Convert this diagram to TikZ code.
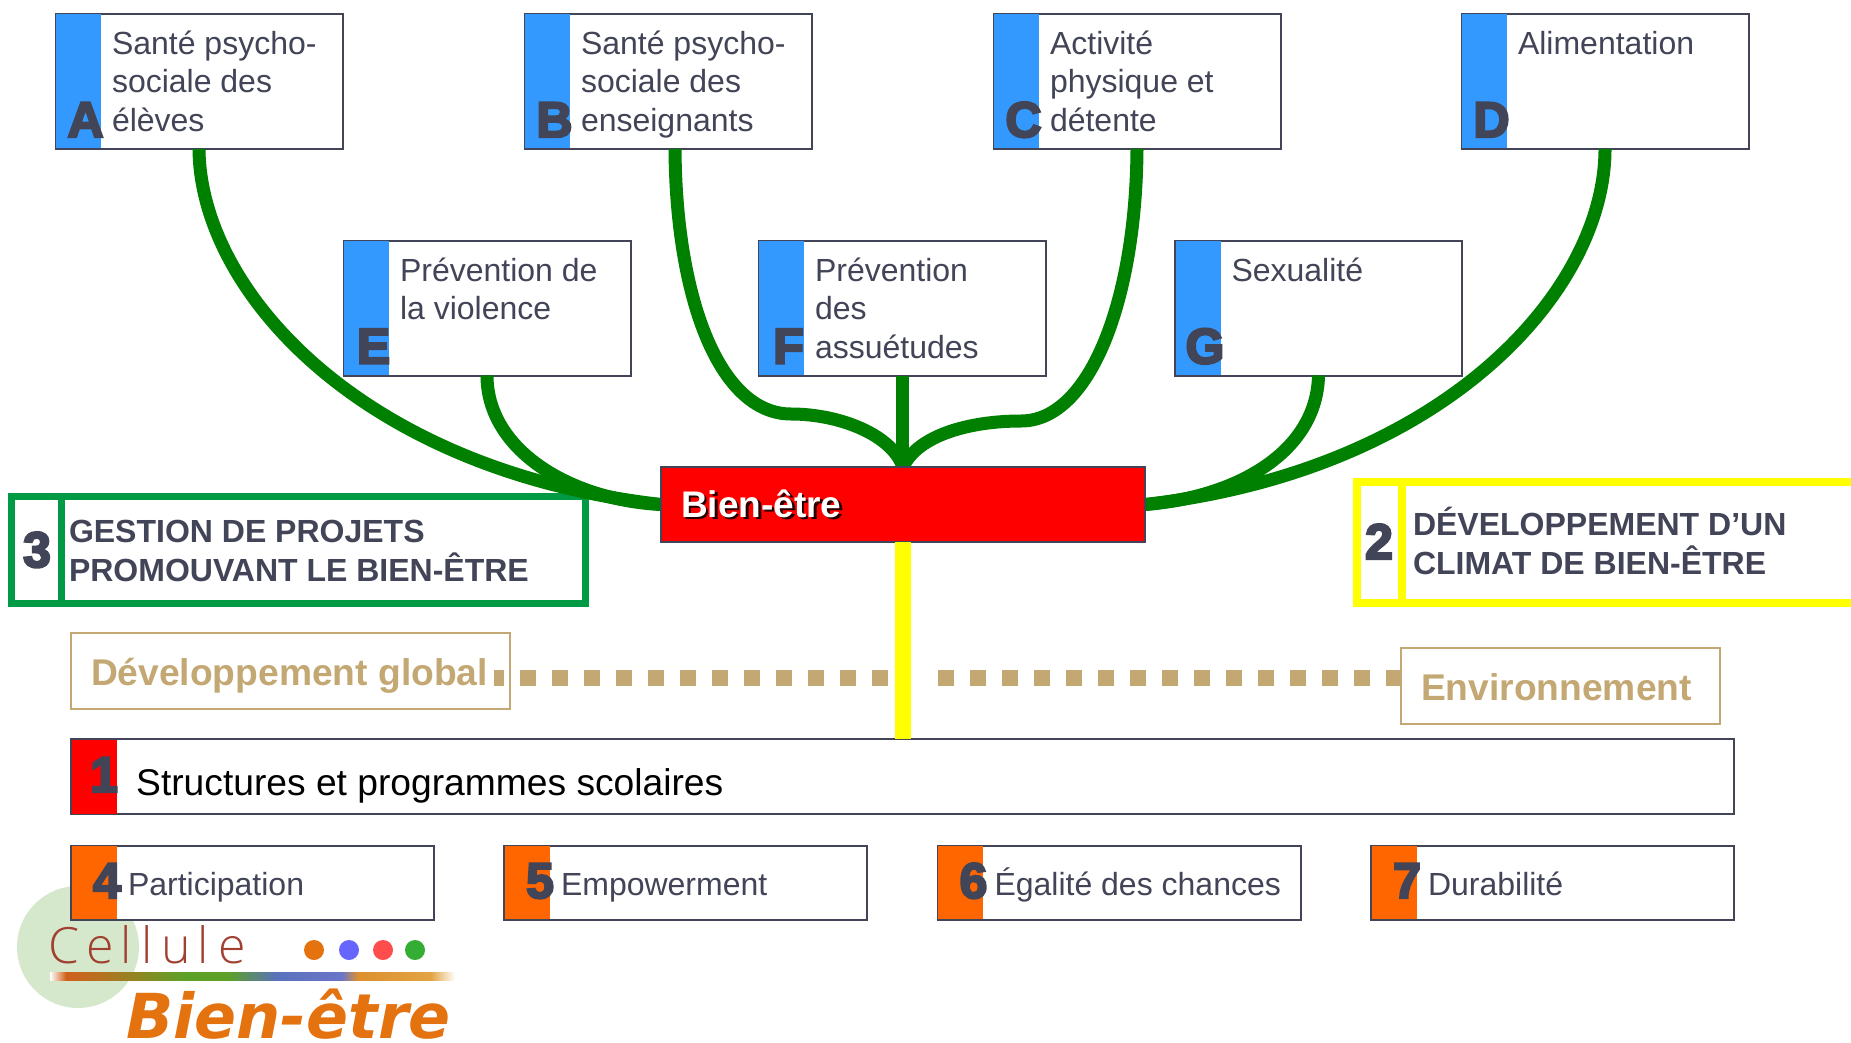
\documentclass[tikz,border=0pt]{standalone}
\usepackage{fontspec}
\usetikzlibrary{calc}
\setmainfont{Liberation Sans}
\newfontfamily\heavyfont[FakeBold=4.5]{Liberation Sans Bold}
\newfontfamily\logoserif{DejaVu Sans}
\newfontfamily\logothin{Open Sans Light}
\definecolor{ink}{HTML}{424457}
\definecolor{leaf}{HTML}{008000}
\definecolor{bluestrip}{HTML}{3399FF}
\definecolor{orangestrip}{HTML}{FF6600}
\definecolor{sand}{HTML}{C4A874}
\definecolor{projgreen}{HTML}{009A44}
\definecolor{pureyellow}{HTML}{FFFF00}
\definecolor{purered}{HTML}{FF0000}
\definecolor{logogreen}{HTML}{D6E8CC}
\definecolor{logoorange}{HTML}{E3720F}
\definecolor{logobrown}{HTML}{A04030}
\definecolor{lbA}{HTML}{D0601A}
\definecolor{lbB}{HTML}{B87020}
\definecolor{lbC}{HTML}{5DA028}
\definecolor{lbD}{HTML}{5A72BC}
\definecolor{lbE}{HTML}{6A75C8}
\definecolor{lbF}{HTML}{DD9030}
\definecolor{lbG}{HTML}{E2A340}
% a TikZ shade shows the middle 50bp of the 100bp axis
\pgfdeclarehorizontalshading{logobar}{100bp}{
  color(0bp)=(white);
  color(25bp)=(white);
  color(27bp)=(lbA);
  color(31bp)=(lbB);
  color(41.5bp)=(lbC);
  color(47bp)=(lbC);
  color(53bp)=(lbD);
  color(61bp)=(lbE);
  color(63bp)=(lbF);
  color(72bp)=(lbG);
  color(75bp)=(white);
  color(100bp)=(white)}
\tikzset{
  framebox/.style={draw=ink,line width=2pt,fill=white,rectangle,inner sep=0pt,anchor=north west,outer sep=0pt},
  stripbox/.style={rectangle,inner sep=0pt,outer sep=0pt,anchor=north west,minimum width=45pt},
  topic/.style={anchor=base west,inner sep=0pt,outer sep=0pt,text=ink,align=left,font=\fontsize{32}{38.5}\selectfont},
  keyletter/.style={anchor=base,inner sep=0pt,outer sep=0pt,text=ink,font=\heavyfont\fontsize{50}{50}\selectfont},
  branch/.style={draw=leaf,line width=13pt,line cap=butt},
  bigframe/.style={rectangle,fill=white,inner sep=0pt,outer sep=0pt,anchor=north west},
  headtxt/.style={anchor=base west,inner sep=0pt,outer sep=0pt,text=ink,align=left,font=\bfseries\fontsize{32}{38.5}\selectfont},
  sandbox/.style={rectangle,draw=sand,line width=2pt,inner sep=0pt,outer sep=0pt,anchor=north west},
  sandtxt/.style={anchor=base west,inner sep=0pt,outer sep=0pt,text=sand,font=\bfseries\fontsize{37.2}{40}\selectfont},
  sanddots/.style={draw=sand,line width=16pt},
  logodot/.style={circle,inner sep=0pt,outer sep=0pt,minimum size=20pt}
}
% name, x, y, letter, text, y of the last text line
\newcommand{\topicbox}[6]{%
  \node[framebox,minimum width=287pt,minimum height=135pt] (#1) at (#2,#3) {};
  \node[stripbox,fill=bluestrip,minimum height=134pt] (#1s) at (#2+.5,#3+.5) {};
  \node[keyletter] (#1l) at (#2+30,#3+123) {#4};
  \node[topic] (#1t) at (#2+56.5,#3+#6) {#5};
}
% name, x, number, text
\newcommand{\valuebox}[4]{%
  \node[framebox,minimum width=363pt,minimum height=74pt] (#1) at (#2,845.5) {};
  \node[stripbox,fill=orangestrip,minimum height=73pt] (#1s) at (#2+.5,846) {};
  \node[keyletter] (#1l) at (#2+36,898) {#3};
  \node[topic] (#1t) at (#2+57,895) {#4};
}
\begin{document}
\begin{tikzpicture}[x=1pt,y=-1pt]
\useasboundingbox (0,0) rectangle (1851,1043);
\fill[white] (0,0) rectangle (1851,1043);
% logo circle lies under the value boxes
\node[circle,fill=logogreen,minimum size=122pt,inner sep=0pt] (logocircle) at (78,947) {};
% boxes
\topicbox{A}{55.5}{14}{A}{Santé psycho-\\sociale des\\élèves}{117.5}
\topicbox{B}{524.5}{14}{B}{Santé psycho-\\sociale des\\enseignants}{117.5}
\topicbox{C}{993.5}{14}{C}{Activité\\physique et\\détente}{117.5}
\topicbox{D}{1461.5}{14}{D}{Alimentation}{40.5}
\topicbox{E}{343.5}{240.5}{E}{Prévention de\\la violence}{79}
\topicbox{F}{758.5}{240.5}{F}{Prévention\\des\\assuétudes}{117.5}
\topicbox{G}{1175}{240.5}{G}{Sexualité}{40.5}
% gestion frame
\node[bigframe,draw=projgreen,line width=7pt,minimum width=574pt,minimum height=107pt] (proj) at (11.5,496) {};
\coordinate (projd) at (61.5,496);
\draw[projgreen,line width=7pt] (projd) -- (projd |- proj.south);
\node[keyletter] (projn) at (37,567) {3};
\node[headtxt] (projt) at (69,581) {GESTION DE PROJETS\\PROMOUVANT LE BIEN-ÊTRE};
% climat frame
\node[bigframe,draw=pureyellow,line width=8pt,minimum width=520pt,minimum height=121pt] (clim) at (1356.5,482) {};
\coordinate (climd) at (1402,482);
\draw[pureyellow,line width=8pt] (climd) -- (climd |- clim.south);
\node[keyletter] (climn) at (1379,559) {2};
\node[headtxt] (climt) at (1413,574) {DÉVELOPPEMENT D’UN\\CLIMAT DE BIEN-ÊTRE};
% centre node, its anchors serve the branches
\coordinate (coretl) at (661,467);
\path (coretl) node[rectangle,inner sep=0pt,outer sep=0pt,anchor=north west,minimum width=484pt,minimum height=75pt] (core) {};
% branches
\draw[branch] (A.south) .. controls (200,290) and (360,470) .. (core.west);
\draw[branch] (E.south) .. controls (487,450) and (570,500) .. (core.west);
\draw[branch] ($(B.south)+(7,0)$) .. controls (676,300) and (720,414) .. (791,414) .. controls (840,414) and (892,435) .. (903,467);
\draw[branch] (C.south) .. controls (1136,300) and (1090,421) .. (1021,421) .. controls (970,421) and (918,435) .. (903,467);
\draw[branch] (F.south) -- (F.south |- core.north);
\draw[branch] (G.south) .. controls (1317,450) and (1240,497) .. (core.east);
\draw[branch] (D.south) .. controls (1605,290) and (1446,470) .. (core.east);
\draw[fill=purered,draw=ink,line width=2pt] (core.north west) rectangle (core.south east);
\node[anchor=base west,inner sep=0pt,text=black!85!red,font=\bfseries\fontsize{37}{40}\selectfont] (coreshadow) at (683.5,519.5) {Bien-être};
\node[anchor=base west,inner sep=0pt,text=white,font=\bfseries\fontsize{37}{40}\selectfont] (coretext) at (681,517) {Bien-être};
% sand boxes
\node[sandbox,minimum width=439pt,minimum height=76pt] (dev) at (71,633) {};
\node[sandtxt] (devt) at (91,685) {Développement global};
\node[sandbox,minimum width=319pt,minimum height=76pt] (env) at (1401,648) {};
\node[sandtxt] (envt) at (1421,700) {Environnement};
\coordinate (dotsA) at (494,678);
\coordinate (dotsB) at (888,678);
\coordinate (dotsC) at (937.5,678);
\draw[sanddots,dash pattern=on 16pt off 16pt,dash phase=6.4pt] (dotsA) -- (dotsB);
\draw[sanddots,dash pattern=on 16pt off 16pt] (dotsC) -- (env.west |- dotsC);
% structures
\node[framebox,minimum width=1663pt,minimum height=75pt] (struct) at (71,739) {};
\node[stripbox,fill=purered,minimum height=74pt] (structs) at (71.5,739.5) {};
\node[keyletter] (structn) at (104,792) {1};
\node[anchor=base west,inner sep=0pt,text=black,font=\fontsize{37.2}{40}\selectfont] (structt) at (136,795) {Structures et programmes scolaires};
% yellow trunk
\draw[pureyellow,line width=15.5pt] (core.south) -- (struct.north -| core.south);
% value boxes
\valuebox{P}{71}{4}{Participation}
\valuebox{Q}{504}{5}{Empowerment}
\valuebox{R}{937.5}{6}{Égalité des chances}
\valuebox{S}{1371}{7}{Durabilité}
% logo
\node[anchor=base west,inner sep=0pt,text=logobrown,font=\logothin\fontsize{50}{50}\selectfont] (logoc) at (48,963) {C\kern7pt e\kern7pt l\kern9pt l\kern9pt u\kern7pt l\kern9pt e};
\shade[shading=logobar] (50,972) rectangle (455,980);
\node[logodot,fill=logoorange] (d1) at (314,950) {};
\node[logodot,fill=blue!60!white] (d2) at (349,950) {};
\node[logodot,fill=red!70!white] (d3) at (383,950) {};
\node[logodot,fill=green!60!black!80] (d4) at (415,950) {};
\node[anchor=base west,inner sep=0pt,text=logoorange,font=\logoserif\bfseries\itshape\fontsize{62}{62}\selectfont] (logob) at (126,1038.5) {Bien-être};
\end{tikzpicture}
\end{document}
